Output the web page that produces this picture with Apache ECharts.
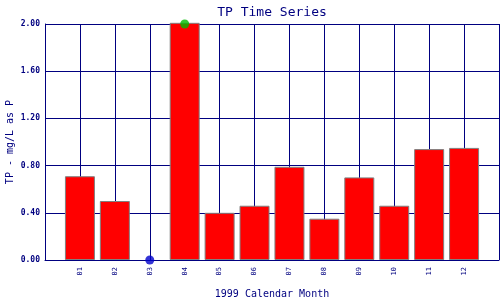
<!DOCTYPE html>
<html><head><meta charset="utf-8">
<script src="https://cdn.jsdelivr.net/npm/echarts@6/dist/echarts.min.js"></script>
<style>html,body{margin:0;padding:0;background:#fff}#c{width:500px;height:300px}</style>
</head><body><div id="c"></div>
<script>
var months = ['01','02','03','04','05','06','07','08','09','10','11','12'];
var tpValues = [0.71, 0.50, null, 2.01, 0.40, 0.46, 0.79, 0.35, 0.70, 0.46, 0.94, 0.95];
var nonDetectMonths = [3];
var nonDetectValues = [0];
var flagMonths = [4];
var flagValues = [2.00];
var yTicks = [0, 0.4, 0.8, 1.2, 1.6, 2.0];

var navy = '#000080';
var font = 'DejaVu Sans Mono';
var barData = months.map(function(m, i){ return [i + 1, tpValues[i]]; }).filter(function(d){ return d[1] !== null; });
var ndData = nonDetectMonths.map(function(m, i){ return [m, nonDetectValues[i]]; });
var flagData = flagMonths.map(function(m, i){ return [m, flagValues[i]]; });

var chart = echarts.init(document.getElementById('c'), null, {renderer: 'canvas'});
chart.setOption({
  animation: false,
  backgroundColor: '#fff',
  title: {
    text: 'TP Time Series', left: 267, top: 1, textAlign: 'center',
    textStyle: {fontFamily: font, fontSize: 13, fontWeight: 'normal', color: navy}
  },
  grid: {left: 45, right: 1, top: 24, bottom: 40, containLabel: false, outerBoundsMode: 'none'},
  xAxis: {
    type: 'value', min: 0, max: months.length + 1, interval: 1,
    name: '1999 Calendar Month', nameLocation: 'middle', nameGap: 29, nameMoveOverlap: false,
    nameTextStyle: {fontFamily: font, fontSize: 10, color: navy},
    axisLine: {show: true, lineStyle: {color: navy, width: 1}},
    axisTick: {show: false},
    splitLine: {show: true, lineStyle: {color: navy, width: 1}},
    axisLabel: {
      rotate: 90, margin: 7, fontFamily: font, fontSize: 7, color: navy,
      formatter: function(v){ return (v >= 1 && v <= months.length) ? months[v - 1] : ''; }
    }
  },
  yAxis: {
    type: 'value', min: yTicks[0], max: yTicks[yTicks.length - 1], interval: yTicks[1] - yTicks[0],
    name: 'TP - mg/L as P', nameLocation: 'middle', nameGap: 30, nameRotate: 90, nameMoveOverlap: false,
    nameTextStyle: {fontFamily: font, fontSize: 10, color: navy},
    axisLine: {show: true, lineStyle: {color: navy, width: 1}},
    axisTick: {show: false},
    splitLine: {show: true, lineStyle: {color: navy, width: 1}},
    axisLabel: {
      margin: 5, fontFamily: font, fontSize: 8, fontWeight: 'bold', color: navy,
      formatter: function(v){ return v.toFixed(2); }
    }
  },
  series: [
    {
      type: 'bar', data: barData, barWidth: 30, clip: false,
      itemStyle: {color: '#ff0000', borderColor: '#808080', borderWidth: 1}
    },
    {
      type: 'scatter', data: ndData, symbol: 'circle', symbolSize: 9, clip: false,
      itemStyle: {color: '#0000cc'}, z: 5
    },
    {
      type: 'scatter', data: flagData, symbol: 'circle', symbolSize: 9, clip: false,
      itemStyle: {color: '#00bb00'}, z: 5
    }
  ]
});
</script>
</body></html>
